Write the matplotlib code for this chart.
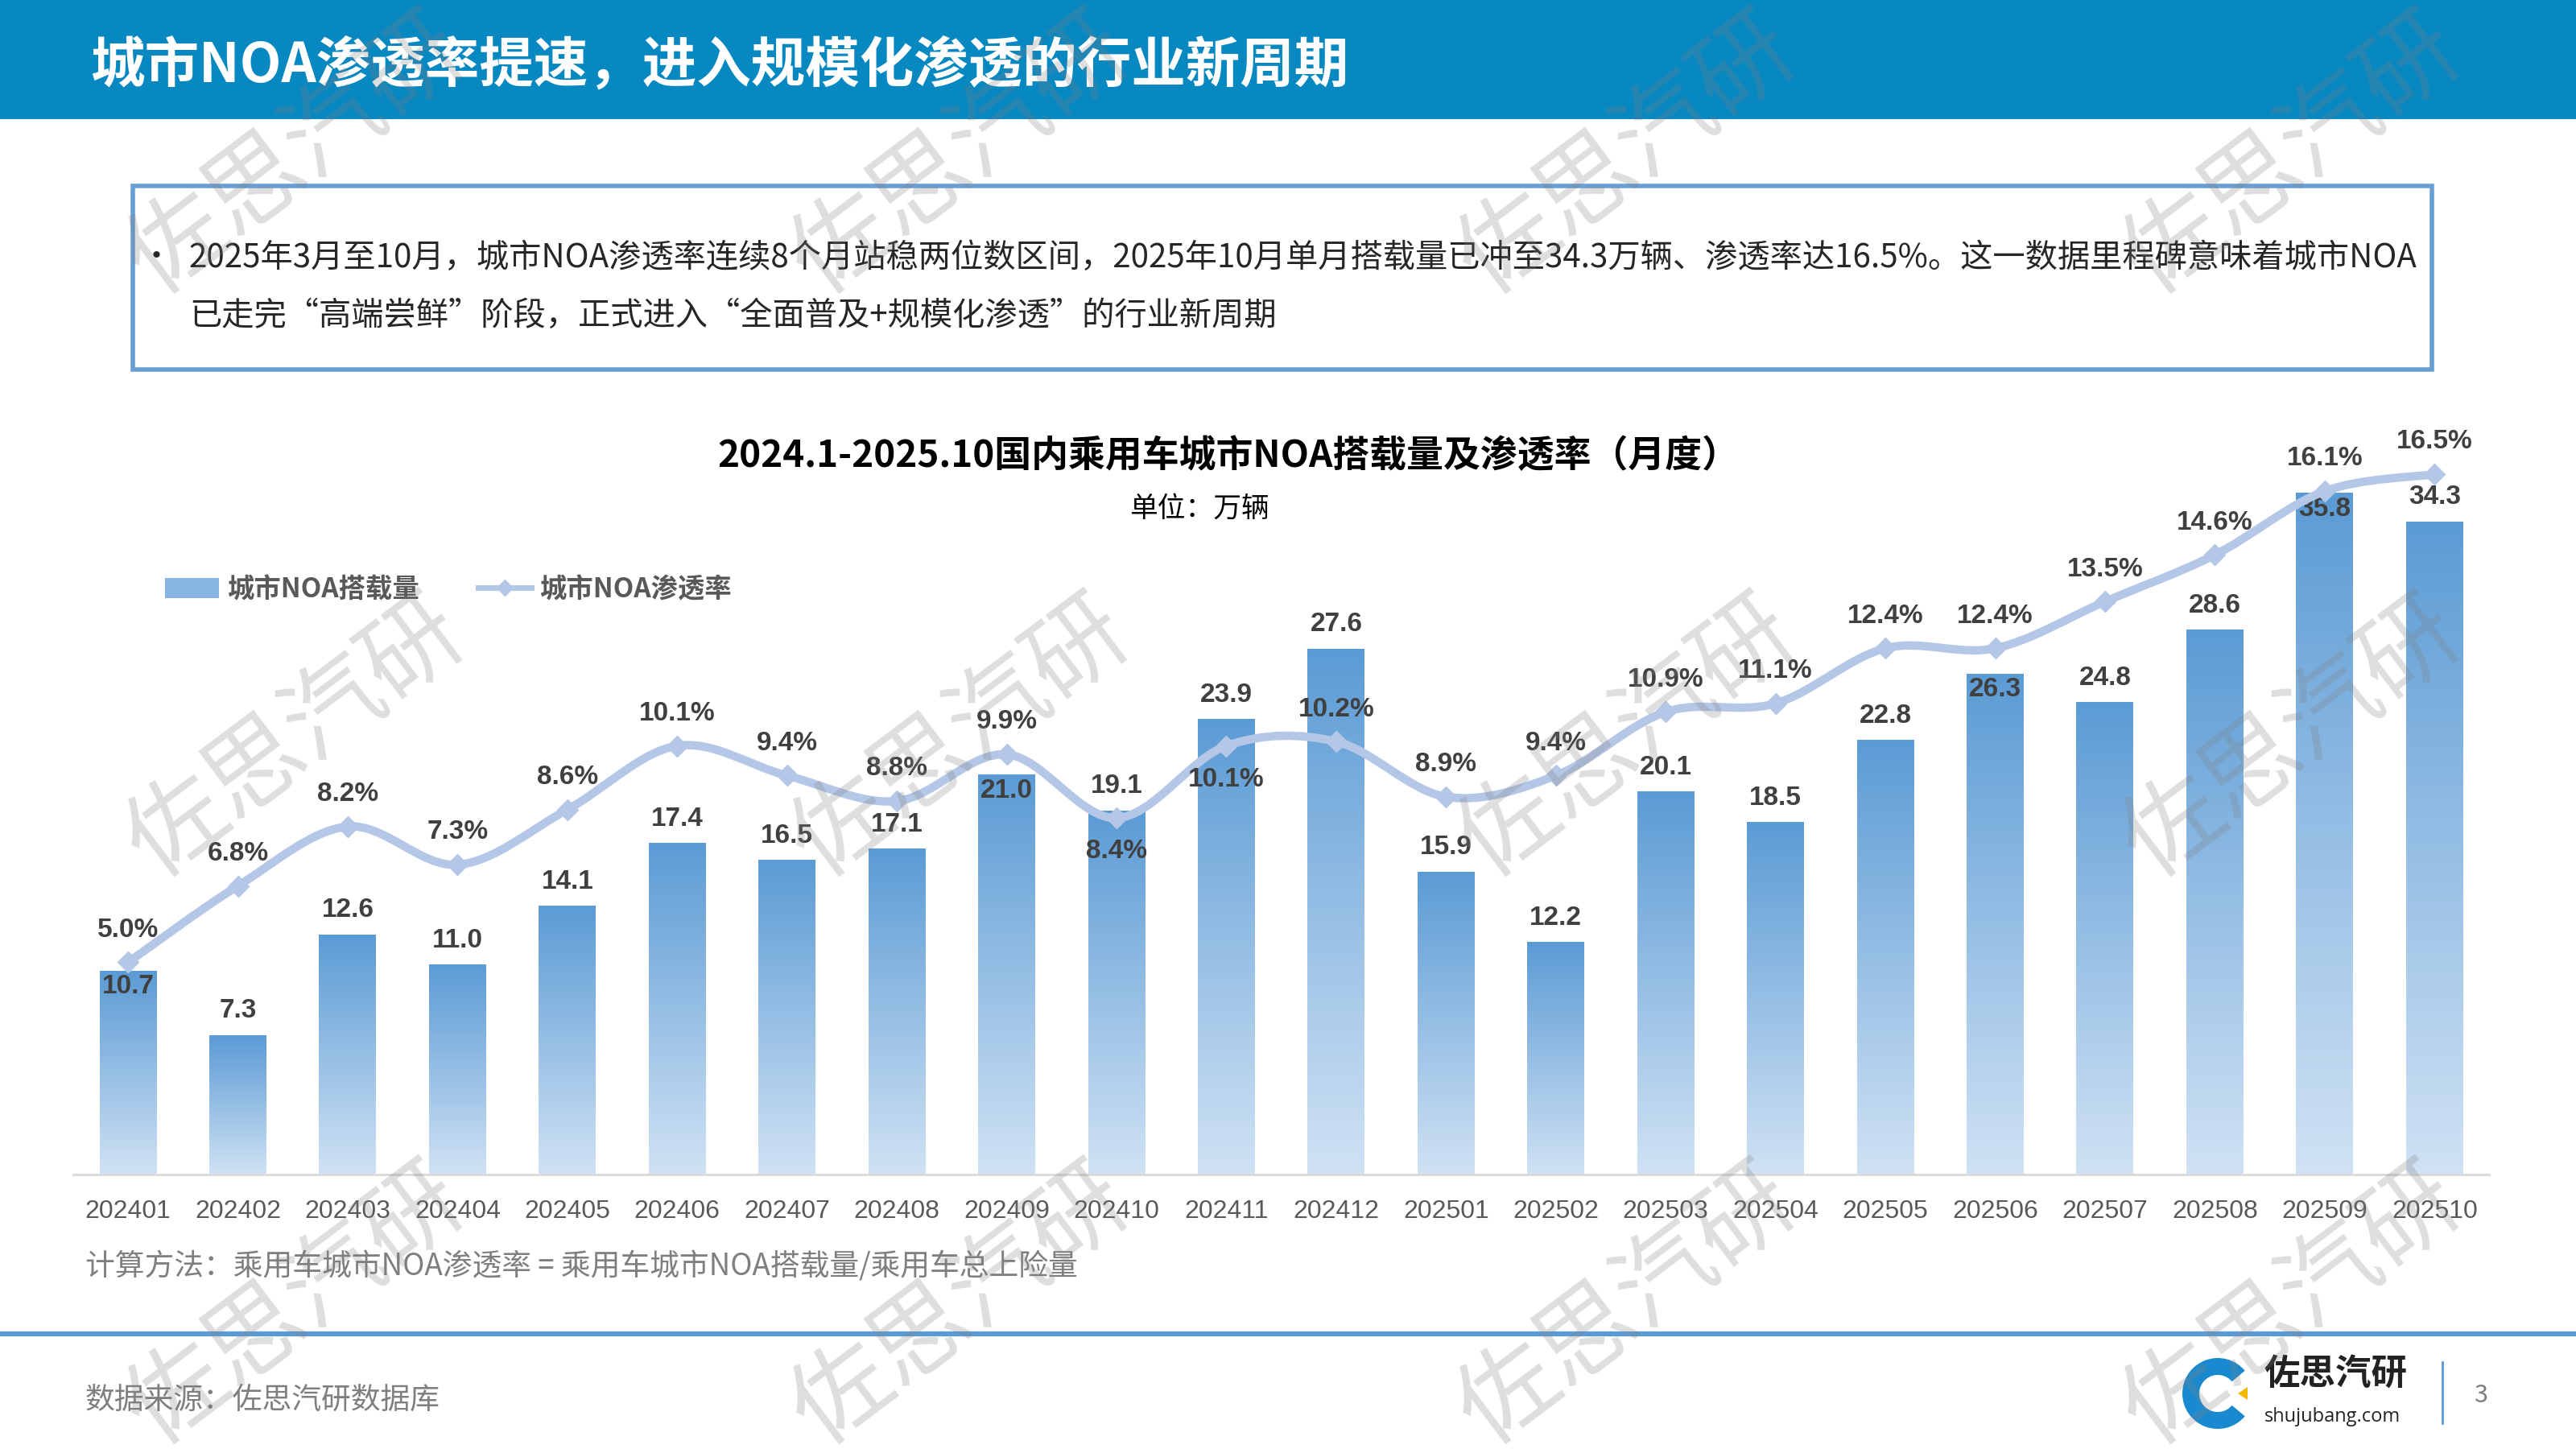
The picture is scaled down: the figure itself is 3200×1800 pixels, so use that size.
import numpy as np
import matplotlib
matplotlib.use("Agg")
import matplotlib.pyplot as plt
from matplotlib import font_manager
from matplotlib.colors import LinearSegmentedColormap
from matplotlib.patches import Rectangle, Wedge, Polygon, PathPatch, Patch
from matplotlib.path import Path
from matplotlib.lines import Line2D

# ---- datos ----
months = ['202401', '202402', '202403', '202404', '202405', '202406', '202407',
          '202408', '202409', '202410', '202411', '202412', '202501', '202502',
          '202503', '202504', '202505', '202506', '202507', '202508', '202509',
          '202510']
volumes = [10.7, 7.3, 12.6, 11.0, 14.1, 17.4, 16.5, 17.1, 21.0, 19.1, 23.9,
           27.6, 15.9, 12.2, 20.1, 18.5, 22.8, 26.3, 24.8, 28.6, 35.8, 34.3]
rates = [5.0, 6.8, 8.2, 7.3, 8.6, 10.1, 9.4, 8.8, 9.9, 8.4, 10.1, 10.2, 8.9,
         9.4, 10.9, 11.1, 12.4, 12.4, 13.5, 14.6, 16.1, 16.5]

# etiquetas que van dentro de la barra / debajo del punto
vol_inside = [0, 8, 17, 20]
rate_below = [9, 10]

title = '城市NOA渗透率提速，进入规模化渗透的行业新周期'
bullet_1 = ('2025年3月至10月，城市NOA渗透率连续8个月站稳两位数区间，2025年10月单月搭载量已冲至34.3万辆、'
            '渗透率达16.5%。这一数据里程碑意味着城市NOA')
bullet_2 = '已走完“高端尝鲜”阶段，正式进入“全面普及+规模化渗透”的行业新周期'
chart_title = '2024.1-2025.10国内乘用车城市NOA搭载量及渗透率（月度）'
unit_txt = '单位：万辆'
legend_labels = ['城市NOA搭载量', '城市NOA渗透率']
note_txt = '计算方法：乘用车城市NOA渗透率 = 乘用车城市NOA搭载量/乘用车总上险量'
source_txt = '数据来源：佐思汽研数据库'

plt.rcParams['font.family'] = ['Noto Sans CJK SC', 'DejaVu Sans']

installed = {f.name for f in font_manager.fontManager.ttflist}
if 'Liberation Sans Narrow' in installed:
    num_font, num_size = ['Liberation Sans Narrow', 'DejaVu Sans'], 28
else:
    num_font, num_size = ['Liberation Sans', 'DejaVu Sans'], 24

azul = '#5b9bd5'
gris_txt = '#404040'
color_linea = '#b4c7e7'

fig = plt.figure(figsize=(32, 18), dpi=100)
fig.patch.set_facecolor('white')

# Encabezado
fig.add_artist(Rectangle((0, 0.918), 1, 0.082, transform=fig.transFigure,
                         facecolor='#0788c1', edgecolor='none', zorder=0))
fig.text(0.035, 0.9545, title, color='white', fontsize=48.6, fontweight='bold',
         va='center', ha='left')

# Recuadro de texto
fig.add_artist(Rectangle((0.0516, 0.745), 0.8925, 0.1267, transform=fig.transFigure,
                         facecolor='none', edgecolor='#6a9fd4', lw=4, zorder=1))
fig.text(0.0606, 0.822, '•', fontsize=28, color='#262626', va='center', ha='center')
fig.text(0.0734, 0.822, bullet_1, fontsize=29, color='#262626', va='center', ha='left')
fig.text(0.0734, 0.782, bullet_2, fontsize=29, color='#262626', va='center', ha='left')

# Titulo del grafico
fig.text(0.4768, 0.685, chart_title, fontsize=33, fontweight='bold', color='black',
         ha='center', va='center')
fig.text(0.4656, 0.649, unit_txt, fontsize=25, color='black', ha='center', va='center')

# ---- grafico ----
ax = fig.add_axes([0.0284, 0.1894, 0.938, 0.5044])
ax2 = ax.twinx()

x = np.arange(len(months))
ancho = 0.52
cmap = LinearSegmentedColormap.from_list('barra', ['#d0e2f4', '#5b9bd5'])
grad = np.linspace(0, 1, 256).reshape(-1, 1)
for i, v in enumerate(volumes):
    ax.imshow(grad, extent=[x[i] - ancho / 2, x[i] + ancho / 2, 0, v], origin='lower',
              cmap=cmap, aspect='auto', zorder=2)

ax.set_xlim(-0.5, len(months) - 0.5)
ax.set_ylim(0, 38.4)
ax2.set_ylim(0, 17.22)

for i, v in enumerate(volumes):
    dy = -14 if i in vol_inside else 22
    ax.annotate('{:.1f}'.format(v), (x[i], v), xytext=(0, dy), textcoords='offset points',
                ha='center', va='center', fontsize=num_size, fontweight='bold',
                family=num_font, color=gris_txt, zorder=5)

# Linea suavizada (curvas Bezier sobre los puntos)
pts = np.column_stack([x, rates]).astype(float)
n = len(pts)
verts = [pts[0]]
codes = [Path.MOVETO]
for i in range(n - 1):
    p0 = pts[i - 1] if i > 0 else pts[i]
    p1 = pts[i]
    p2 = pts[i + 1]
    p3 = pts[i + 2] if i + 2 < n else pts[i + 1]
    verts += [p1 + (p2 - p0) / 6, p2 - (p3 - p1) / 6, p2]
    codes += [Path.CURVE4] * 3
ax2.add_patch(PathPatch(Path(verts, codes), facecolor='none', edgecolor=color_linea,
                        lw=7.5, capstyle='round', joinstyle='round', zorder=3))
ax2.plot(x, rates, linestyle='none', marker='D', markersize=13, color=color_linea,
         zorder=4)

for i, r in enumerate(rates):
    dy = -30 if i in rate_below else 29
    ax2.annotate('{:.1f}%'.format(r), (x[i], r), xytext=(0, dy), textcoords='offset points',
                 ha='center', va='center', fontsize=num_size, fontweight='bold',
                 family=num_font, color=gris_txt, zorder=5)

ax.set_xticks(x, months, fontsize=23, color='#595959',
              family=['Liberation Sans', 'DejaVu Sans'])
ax.tick_params(axis='x', length=0, pad=22)
ax.set_yticks([])
ax2.set_yticks([])
for a in (ax, ax2):
    for s in ('top', 'right', 'left'):
        a.spines[s].set_visible(False)
ax2.spines['bottom'].set_visible(False)
ax.spines['bottom'].set_color('#d9d9d9')
ax.spines['bottom'].set_linewidth(2)
ax.patch.set_alpha(0)

handles = [Patch(facecolor='#86b5e2', edgecolor='none'),
           Line2D([0], [0], color=color_linea, lw=5, marker='D', markersize=10)]
ax.legend(handles, legend_labels, loc='center left', bbox_to_anchor=(0.028, 0.80),
          ncol=2, frameon=False, prop={'weight': 'bold', 'size': 24},
          labelcolor='#595959', handlelength=2.0, handleheight=0.8,
          columnspacing=2.2, handletextpad=0.3)

# Pie
fig.text(0.033, 0.1256, note_txt, fontsize=26.5, color='#7f7f7f', ha='left', va='center')
fig.add_artist(Line2D([0, 1], [0.0794, 0.0794], transform=fig.transFigure,
                      color=azul, lw=4.5))
fig.text(0.033, 0.034, source_txt, fontsize=26.5, color='#7f7f7f', ha='left', va='center')

# Logo
fig.add_artist(Wedge((27.55, 0.69), 0.44, 40, 320, width=0.21, transform=fig.dpi_scale_trans,
                     facecolor='#1a8ad0', edgecolor='none'))
fig.add_artist(Polygon([[27.80, 0.69], [27.92, 0.77], [27.92, 0.61]], closed=True,
                       transform=fig.dpi_scale_trans, facecolor='#f5b800', edgecolor='none'))
fig.text(0.879, 0.052, '佐思汽研', fontsize=32, fontweight='bold', color='#222222',
         ha='left', va='center')
fig.text(0.879, 0.022, 'shujubang.com', fontsize=17, color='#222222', ha='left', va='center',
         family=['Open Sans', 'DejaVu Sans'])
fig.add_artist(Line2D([0.948, 0.948], [0.018, 0.06], transform=fig.transFigure,
                      color=azul, lw=2))
fig.text(0.963, 0.037, '3', fontsize=22, color='#7f7f7f', ha='center', va='center')

# Marca de agua
for cx in (0.115, 0.373, 0.632, 0.890):
    for cy in (0.892, 0.49, 0.098):
        fig.text(cx, cy, '佐思汽研', fontsize=88, color='#808080', alpha=0.26,
                 rotation=37, ha='center', va='center', fontweight='light', zorder=10)

fig.savefig('out.png', dpi=100, facecolor='white')
